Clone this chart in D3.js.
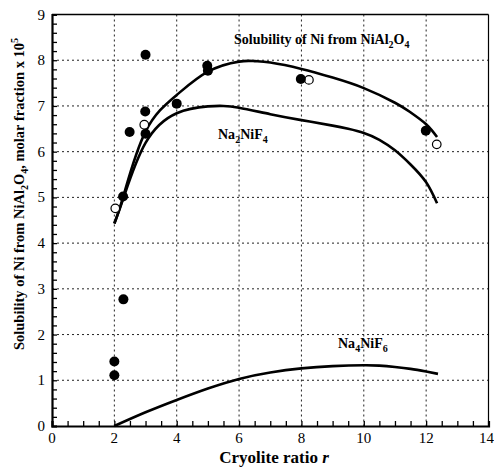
<!DOCTYPE html>
<html>
<head>
<meta charset="utf-8">
<script src="https://cdn.jsdelivr.net/npm/d3@7"></script>
<style>
  body { margin: 0; background: #fff; }
  svg text { font-family: "Liberation Serif", Tinos, "DejaVu Serif", serif; }
</style>
</head>
<body>
<svg id="chart" width="494" height="468"></svg>
<script>
// fitted curves
var solX = [2, 2.3, 3, 4, 5, 6, 6.5, 7, 8, 9, 10, 11, 11.5, 12, 12.35];
var solY = [4.43, 5.05, 6.44, 7.24, 7.75, 7.97, 7.98, 7.95, 7.81, 7.62, 7.39, 7.07, 6.86, 6.6, 6.32];

var na2X = [2, 2.3, 3, 4, 5, 5.5, 6, 7, 8, 9, 9.5, 10, 10.5, 11, 11.5, 12, 12.35];
var na2Y = [4.43, 5.0, 6.19, 6.84, 6.99, 7.0, 6.96, 6.82, 6.69, 6.57, 6.5, 6.41, 6.26, 6.03, 5.72, 5.33, 4.87];

var na4X = [2, 3, 4, 5, 6, 7, 8, 9, 10, 10.5, 11, 11.5, 12, 12.38];
var na4Y = [0, 0.3, 0.57, 0.82, 1.03, 1.17, 1.26, 1.31, 1.33, 1.32, 1.29, 1.25, 1.19, 1.14];

// measured points
var filledX = [3, 2.28, 2.49, 2.99, 3, 4, 4.98, 5, 7.98, 11.99, 2.29, 2, 2];
var filledY = [8.12, 5.02, 6.43, 6.88, 6.39, 7.05, 7.88, 7.77, 7.59, 6.46, 2.77, 1.41, 1.11];
var openX = [2.03, 2.96, 8.24, 12.34];
var openY = [4.76, 6.59, 7.57, 6.16];

var xTicks = [0, 2, 4, 6, 8, 10, 12, 14];
var yTicks = [0, 1, 2, 3, 4, 5, 6, 7, 8, 9];

var margin = { top: 14.5, right: 5.5, bottom: 42, left: 52 },
  width = 494 - margin.left - margin.right,
  height = 468 - margin.top - margin.bottom;

var svg = d3.select("#chart");
var g = svg.append("g").attr("transform", `translate(${margin.left},${margin.top})`);

var x = d3.scaleLinear().domain([0, 14]).range([0, width]);
var y = d3.scaleLinear().domain([0, 9]).range([height, 0]);

// grid
g.selectAll(".gx")
  .data(xTicks.filter((d) => d > 0 && d < 14))
  .enter()
  .append("line")
  .attr("x1", (d) => x(d)).attr("x2", (d) => x(d))
  .attr("y1", 0).attr("y2", height)
  .attr("stroke", "#222").attr("stroke-width", 1).attr("stroke-dasharray", "2,3");
g.selectAll(".gy")
  .data(yTicks.filter((d) => d > 0 && d < 9))
  .enter()
  .append("line")
  .attr("x1", 0).attr("x2", width)
  .attr("y1", (d) => y(d)).attr("y2", (d) => y(d))
  .attr("stroke", "#222").attr("stroke-width", 1).attr("stroke-dasharray", "2,3");

// frame
g.append("line").attr("x1", 0).attr("x2", width).attr("y1", 0).attr("y2", 0)
  .attr("stroke", "#000").attr("stroke-width", 1.5);
g.append("line").attr("x1", width).attr("x2", width).attr("y1", 0).attr("y2", height)
  .attr("stroke", "#000").attr("stroke-width", 1.2);

// axes with inward ticks
var xAxis = g.append("g").attr("transform", `translate(0,${height})`)
  .call(d3.axisBottom(x).tickValues(d3.range(0, 14.01, 0.5)).tickSize(-5).tickFormat(""));
var yAxis = g.append("g")
  .call(d3.axisLeft(y).tickValues(d3.range(0, 9.01, 0.2)).tickSize(-5).tickFormat(""));
[xAxis, yAxis].forEach(function (a) {
  a.select(".domain").attr("stroke-width", 2.2);
  a.selectAll(".tick line").attr("stroke-width", 1.3);
});

// last x label sits against the page edge, so anchor it at its end
g.selectAll(".xl")
  .data(xTicks)
  .enter()
  .append("text")
  .attr("x", (d) => (d == 14 ? x(d) + 5.5 : x(d)))
  .attr("y", height + 17)
  .attr("text-anchor", (d) => (d == 14 ? "end" : "middle"))
  .attr("font-size", 15)
  .text((d) => d);
g.selectAll(".yl")
  .data(yTicks)
  .enter()
  .append("text")
  .attr("x", -7)
  .attr("y", (d) => y(d) + 5)
  .attr("text-anchor", "end")
  .attr("font-size", 15)
  .text((d) => d);

// curves
var line = d3.line().x((d) => x(d[0])).y((d) => y(d[1])).curve(d3.curveNatural);
[[solX, solY], [na2X, na2Y], [na4X, na4Y]].forEach(function (c) {
  g.append("path")
    .datum(d3.zip(c[0], c[1]))
    .attr("fill", "none")
    .attr("stroke", "#000")
    .attr("stroke-width", 2.6)
    .attr("d", line);
});

// points
g.selectAll(".open")
  .data(d3.zip(openX, openY))
  .enter()
  .append("circle")
  .attr("cx", (d) => x(d[0])).attr("cy", (d) => y(d[1]))
  .attr("r", 4.3)
  .attr("fill", "#fff").attr("stroke", "#000").attr("stroke-width", 1.2);
g.selectAll(".filled")
  .data(d3.zip(filledX, filledY))
  .enter()
  .append("circle")
  .attr("cx", (d) => x(d[0])).attr("cy", (d) => y(d[1]))
  .attr("r", 5)
  .attr("fill", "#000");

// curve labels
function chem(sel, parts) {
  parts.forEach(function (p) {
    var t = sel.append("tspan").text(p[0]);
    if (p[1]) t.attr("font-size", 10).attr("dy", 4);
    else if (p[2]) t.attr("dy", -4);
  });
}
var t1 = svg.append("text").attr("x", 234).attr("y", 44).attr("font-size", 14).attr("font-weight", "bold");
chem(t1, [["Solubility of Ni from NiAl"], ["2", 1], ["O", 0, 1], ["4", 1]]);
var t2 = svg.append("text").attr("x", 218).attr("y", 139).attr("font-size", 14).attr("font-weight", "bold");
chem(t2, [["Na"], ["2", 1], ["NiF", 0, 1], ["4", 1]]);
var t3 = svg.append("text").attr("x", 338).attr("y", 348).attr("font-size", 14).attr("font-weight", "bold");
chem(t3, [["Na"], ["4", 1], ["NiF", 0, 1], ["6", 1]]);

// axis titles
var xt = svg.append("text").attr("x", 274).attr("y", 463).attr("text-anchor", "middle")
  .attr("font-size", 17).attr("font-weight", "bold");
xt.append("tspan").text("Cryolite ratio ");
xt.append("tspan").attr("font-style", "italic").text("r");

var yt = svg.append("text")
  .attr("transform", "translate(24,194) rotate(-90)")
  .attr("text-anchor", "middle")
  .attr("font-size", 14.5).attr("font-weight", "bold");
chem(yt, [["Solubility of Ni from NiAl"], ["2", 1], ["O", 0, 1], ["4", 1], [", molar fraction x 10", 0, 1]]);
yt.append("tspan").attr("font-size", 10).attr("dy", -6).text("5");
</script>
</body>
</html>
